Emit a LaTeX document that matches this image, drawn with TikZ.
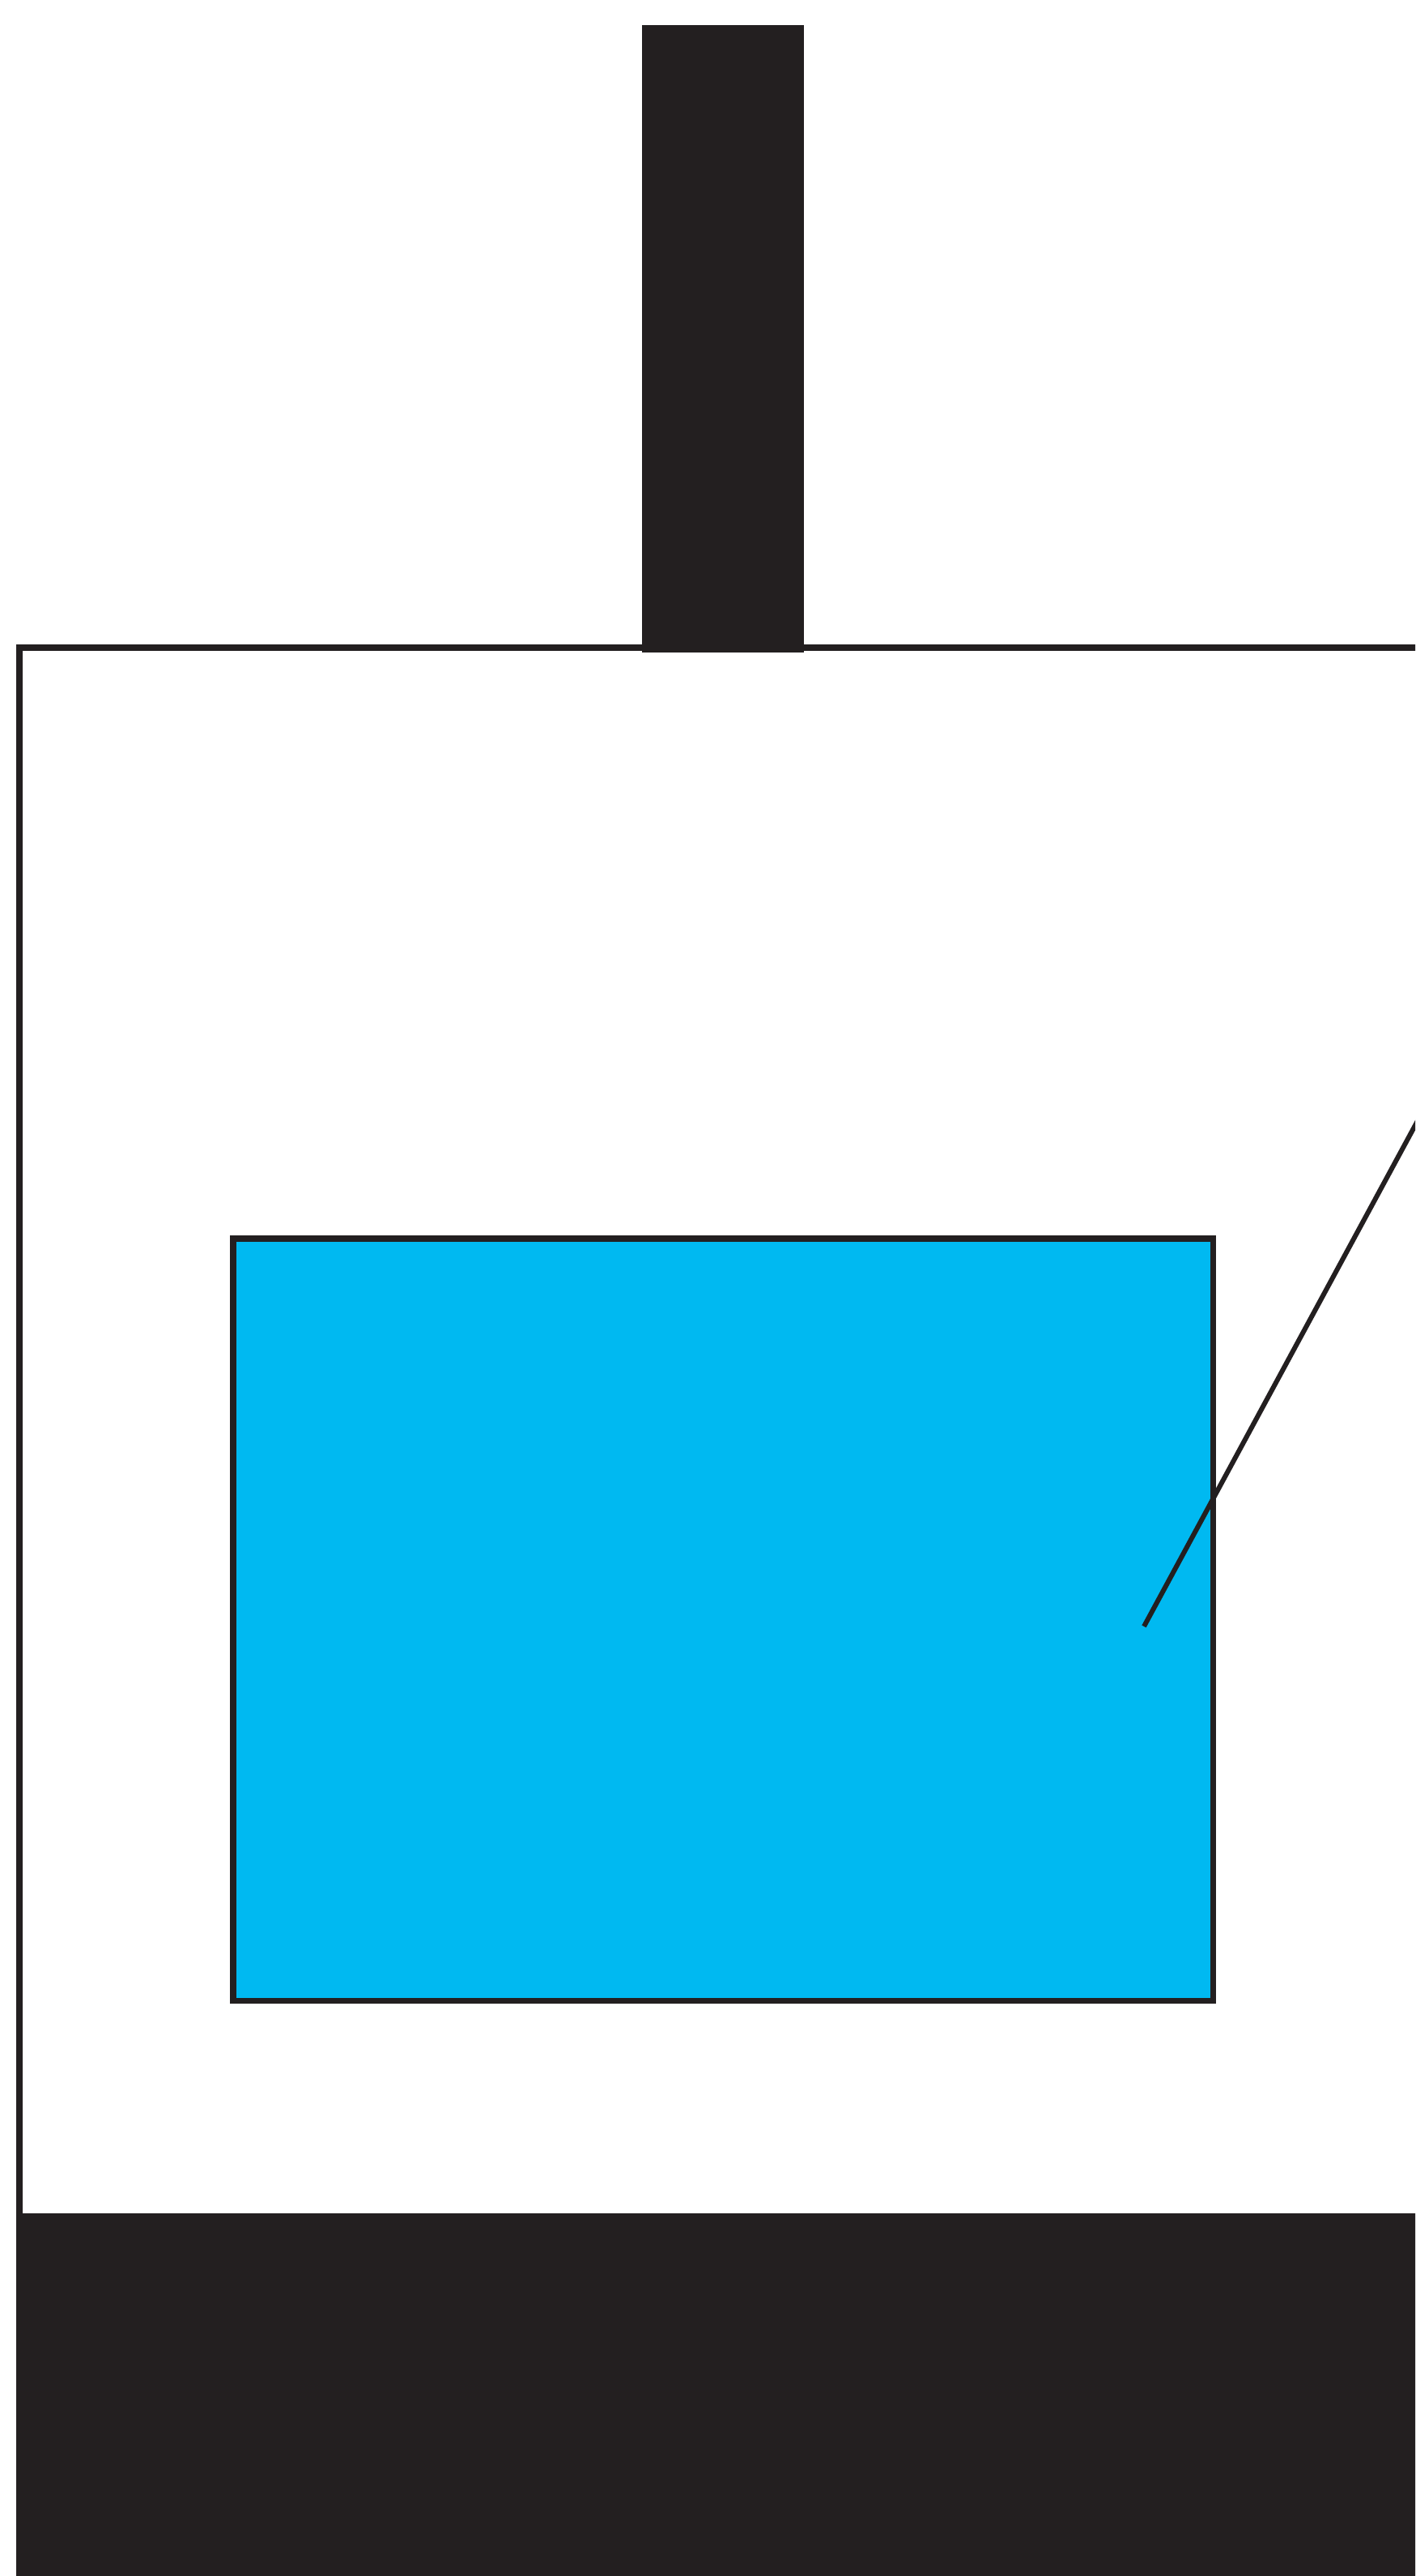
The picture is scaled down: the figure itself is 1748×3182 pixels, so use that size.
\documentclass[tikz,border=0pt]{standalone}
\usetikzlibrary{calc}
\definecolor{inkblack}{HTML}{231F20}
\definecolor{waterblue}{HTML}{00B9F1}

\begin{document}
\begin{tikzpicture}[
	x=0.01cm, y=-0.01cm,
	outline/.style={draw=inkblack, line width=2pt},
	solid part/.style={fill=inkblack},
	window/.style={fill=waterblue, draw=inkblack, line width=2pt},
	pointer/.style={draw=inkblack, line width=1.7pt}
]
\useasboundingbox (0,0) rectangle (1748,3182);
\clip (0,0) rectangle (1748,3182);

% stem on top
\fill[solid part] (793,31) rectangle (993,806);

% housing
\draw[outline] (24,3300) -- (24,800) -- (1800,800);

% base
\fill[solid part] (20,2734) rectangle (1800,3300);

% blue panel
\draw[window] (288,1530) rectangle (1498,2471);

% slanted line
\coordinate (tip) at (1413,2009);
\coordinate (far) at ($(tip)!1.1!(1748,1390)$);
\draw[pointer] (tip) -- (far);
\end{tikzpicture}
\end{document}
